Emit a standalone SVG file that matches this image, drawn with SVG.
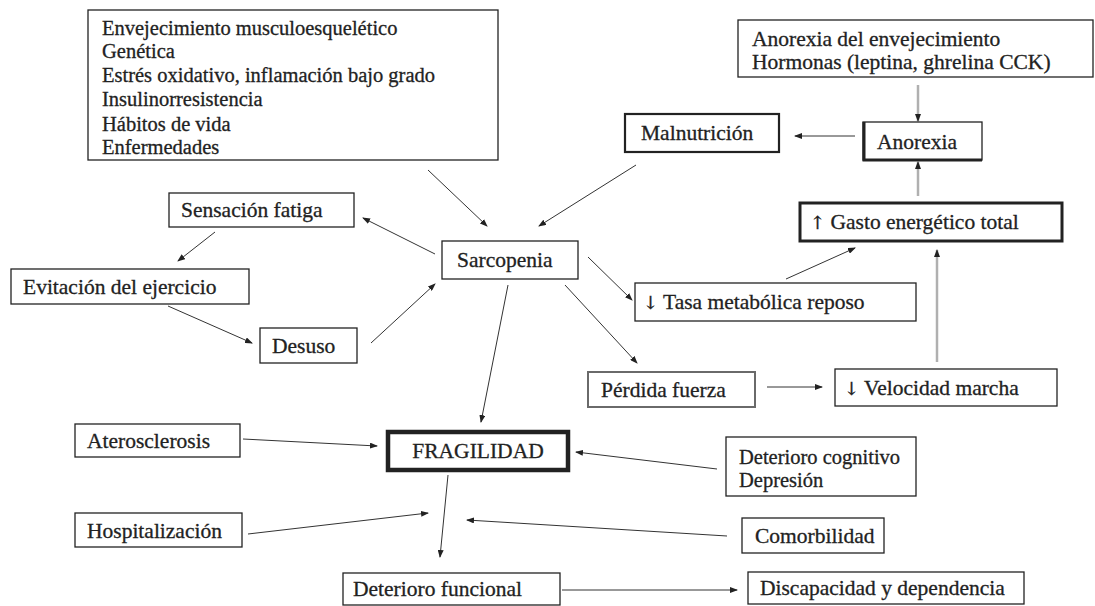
<svg xmlns="http://www.w3.org/2000/svg" width="1095" height="606" viewBox="0 0 1095 606">
<style>
  .box{fill:#fff;stroke:#222;stroke-width:1.3}
  .b2{stroke-width:2.2}
  .b3{stroke-width:3}
  .b5{stroke-width:4.5}
  .gr{stroke:#6a6a6a;stroke-width:2}
  .t{font-family:"Liberation Serif","Times New Roman",serif;font-size:21.5px;fill:#222;stroke:#222;stroke-width:0.3}
  .s{font-size:20.5px}
  .ar{font-family:"DejaVu Serif",serif;font-size:18px}
  .c{stroke:#333;stroke-width:1;fill:none;marker-end:url(#ah)}
  .g{stroke:#b0b0b0;stroke-width:2.5;fill:none;marker-end:url(#ah)}
</style>
<defs>
  <marker id="ah" markerWidth="8" markerHeight="6" refX="7" refY="3" orient="auto" markerUnits="userSpaceOnUse">
    <path d="M0,0 L8,3 L0,6 Z" fill="#222"/>
  </marker>
</defs>
<rect width="1095" height="606" fill="#fff"/>

<g id="causes">
  <rect class="box" x="88" y="10" width="410" height="150"/>
  <text class="t s" x="102" y="35">Envejecimiento musculoesquelético</text>
  <text class="t s" x="102" y="58">Genética</text>
  <text class="t s" x="102" y="82">Estrés oxidativo, inflamación bajo grado</text>
  <text class="t s" x="102" y="106">Insulinorresistencia</text>
  <text class="t s" x="102" y="131">Hábitos de vida</text>
  <text class="t s" x="102" y="154">Enfermedades</text>
</g>
<g id="anorexia-causes">
  <rect class="box" x="738" y="20" width="355" height="57"/>
  <text class="t" x="752" y="46">Anorexia del envejecimiento</text>
  <text class="t" x="752" y="69">Hormonas (leptina, ghrelina CCK)</text>
</g>
<g id="malnutricion">
  <rect class="box b2" x="625" y="114" width="154" height="38"/>
  <text class="t" x="641" y="140">Malnutrición</text>
</g>
<g id="anorexia">
  <rect class="box" x="863" y="122" width="119" height="38"/>
  <path d="M864,122 V160 H982" stroke="#222" stroke-width="3" fill="none"/>
  <text class="t" x="877" y="149">Anorexia</text>
</g>
<g id="gasto">
  <rect class="box b3" x="800" y="203" width="262" height="38"/>
  <text class="t" x="810" y="229"><tspan class="ar">↑</tspan> Gasto energético total</text>
</g>
<g id="sensacion">
  <rect class="box" x="169" y="193" width="185" height="34"/>
  <text class="t" x="181" y="217">Sensación fatiga</text>
</g>
<g id="evitacion">
  <rect class="box" x="11" y="269" width="238" height="35"/>
  <text class="t" x="23" y="294">Evitación del ejercicio</text>
</g>
<g id="desuso">
  <rect class="box" x="260" y="328" width="97" height="35"/>
  <text class="t" x="272" y="353">Desuso</text>
</g>
<g id="sarcopenia">
  <rect class="box" x="442" y="241" width="136" height="38"/>
  <text class="t" x="457" y="267">Sarcopenia</text>
</g>
<g id="tasa">
  <rect class="box" x="635" y="283" width="281" height="38"/>
  <text class="t" x="643" y="309"><tspan class="ar">↓</tspan> Tasa metabólica reposo</text>
</g>
<g id="perdida">
  <rect class="box gr" x="588" y="372" width="167" height="35"/>
  <text class="t" x="601" y="397">Pérdida fuerza</text>
</g>
<g id="velocidad">
  <rect class="box" x="835" y="369" width="222" height="37"/>
  <text class="t" x="844" y="395"><tspan class="ar">↓</tspan> Velocidad marcha</text>
</g>
<g id="fragilidad">
  <rect class="box b5" x="388" y="432" width="180" height="38"/>
  <text class="t" x="478" y="458" text-anchor="middle">FRAGILIDAD</text>
</g>
<g id="aterosclerosis">
  <rect class="box" x="75" y="424" width="165" height="33"/>
  <text class="t" x="87" y="448">Aterosclerosis</text>
</g>
<g id="hospitalizacion">
  <rect class="box" x="75" y="513" width="167" height="34"/>
  <text class="t" x="87" y="538">Hospitalización</text>
</g>
<g id="cognitivo">
  <rect class="box" x="726" y="437" width="190" height="59"/>
  <text class="t s" x="739" y="464">Deterioro cognitivo</text>
  <text class="t s" x="739" y="487">Depresión</text>
</g>
<g id="comorbilidad">
  <rect class="box" x="742" y="518" width="142" height="35"/>
  <text class="t" x="755" y="543">Comorbilidad</text>
</g>
<g id="funcional">
  <rect class="box" x="343" y="573" width="217" height="32"/>
  <text class="t" x="353" y="596">Deterioro funcional</text>
</g>
<g id="discapacidad">
  <rect class="box" x="748" y="572" width="276" height="32"/>
  <text class="t" x="760" y="595">Discapacidad y dependencia</text>
</g>

<g id="connectors">
  <line class="c" x1="428" y1="170" x2="487" y2="226"/>
  <line class="c" x1="636" y1="165" x2="539" y2="226"/>
  <line class="c" x1="435" y1="254" x2="363" y2="218"/>
  <line class="c" x1="215" y1="232" x2="178" y2="261"/>
  <line class="c" x1="168" y1="306" x2="252" y2="343"/>
  <line class="c" x1="371" y1="343" x2="435" y2="284"/>
  <line class="c" x1="588" y1="257" x2="632" y2="300"/>
  <line class="c" x1="565" y1="285" x2="637" y2="363"/>
  <line class="c" x1="508" y1="285" x2="481" y2="422"/>
  <line class="c" x1="786" y1="279" x2="855" y2="248"/>
  <line class="c" x1="767" y1="387" x2="822" y2="387"/>
  <line class="g" x1="937" y1="362" x2="937" y2="250"/>
  <line class="g" x1="918" y1="196" x2="918" y2="162"/>
  <line class="g" x1="918" y1="85" x2="918" y2="121"/>
  <line class="c" x1="855" y1="136" x2="795" y2="136"/>
  <line class="c" x1="243" y1="439" x2="377" y2="446"/>
  <line class="c" x1="717" y1="469" x2="576" y2="452"/>
  <line class="c" x1="448" y1="475" x2="440" y2="557"/>
  <line class="c" x1="248" y1="534" x2="428" y2="513"/>
  <line class="c" x1="727" y1="536" x2="467" y2="520"/>
  <line class="c" x1="562" y1="590" x2="737" y2="590"/>
</g>
</svg>
